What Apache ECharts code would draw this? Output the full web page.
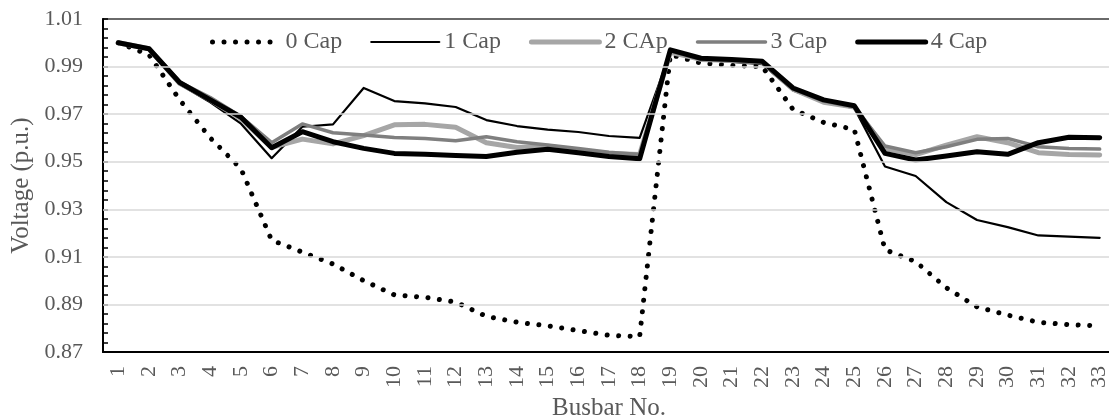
<!DOCTYPE html>
<html>
<head>
<meta charset="utf-8">
<title>Busbar voltage profile</title>
<script src="https://cdn.jsdelivr.net/npm/echarts@6/dist/echarts.min.js"></script>
<style>
  html, body { margin: 0; padding: 0; background: #ffffff; }
  #chart { width: 1109px; height: 419px; }
</style>
</head>
<body>
<div id="chart"></div>
<script>
// Busbar numbers along the feeder
const busbars = ['1','2','3','4','5','6','7','8','9','10','11','12','13','14','15','16','17',
  '18','19','20','21','22','23','24','25','26','27','28','29','30','31','32','33'];

// Voltage magnitude (p.u.) per busbar for each capacitor case
const cap0 = [1.000, 0.995, 0.976, 0.960, 0.947, 0.917, 0.912, 0.907, 0.900, 0.894, 0.893,
  0.891, 0.885, 0.8825, 0.881, 0.879, 0.877, 0.8765, 0.995, 0.9915, 0.9905, 0.990, 0.972,
  0.9665, 0.9635, 0.913, 0.908, 0.897, 0.889, 0.8855, 0.8825, 0.8815, 0.881];
const cap1 = [1.000, 0.997, 0.9825, 0.975, 0.966, 0.9515, 0.9647, 0.9657, 0.981, 0.9755, 0.9745,
  0.973, 0.9675, 0.965, 0.9635, 0.9625, 0.9608, 0.960, 0.996, 0.993, 0.992, 0.991, 0.980,
  0.975, 0.9725, 0.948, 0.944, 0.933, 0.9255, 0.9225, 0.919, 0.9185, 0.918];
const cap2 = [1.000, 0.9975, 0.983, 0.976, 0.968, 0.956, 0.9595, 0.9575, 0.961, 0.9655, 0.9657,
  0.9645, 0.958, 0.956, 0.9565, 0.9548, 0.9535, 0.953, 0.996, 0.993, 0.9925, 0.992, 0.9805,
  0.975, 0.973, 0.9555, 0.953, 0.957, 0.9605, 0.958, 0.9538, 0.953, 0.9528];
const cap3 = [1.000, 0.9975, 0.9835, 0.977, 0.969, 0.958, 0.9659, 0.9622, 0.9612, 0.9602, 0.9598,
  0.9588, 0.9605, 0.9584, 0.957, 0.9556, 0.954, 0.953, 0.9965, 0.993, 0.9925, 0.9915, 0.9805,
  0.9755, 0.973, 0.9566, 0.9538, 0.9563, 0.9594, 0.9598, 0.9563, 0.9556, 0.9553];
const cap4 = [1.000, 0.9975, 0.9833, 0.976, 0.9687, 0.9559, 0.9626, 0.9584, 0.9556, 0.9535, 0.9531,
  0.9526, 0.9522, 0.954, 0.9552, 0.9538, 0.9522, 0.9512, 0.997, 0.9935, 0.993, 0.9922, 0.981,
  0.976, 0.9735, 0.9535, 0.9507, 0.9524, 0.9542, 0.9531, 0.958, 0.9603, 0.9601];

const seriesNames = ['0 Cap', '1 Cap', '2 CAp', '3 Cap', '4 Cap'];

// Labelled voltage levels and the small tick spacing on the voltage axis
const yLabelValues = [0.87, 0.89, 0.91, 0.93, 0.95, 0.97, 0.99, 1.01];
const yMin = 0.87, yMax = 1.01, yTickStep = 0.004;

const yTickValues = [];
for (let k = 0; yMin + k * yTickStep <= yMax + 1e-9; k++) {
  yTickValues.push(+(yMin + k * yTickStep).toFixed(3));
}
// horizontal grid lines at the inner labelled levels
const gridLevels = yLabelValues.slice(1, -1);

const FONT = 'Liberation Serif';
const TXT = '#595959';

function lineSeries(name, data, color, width, dash) {
  return {
    name: name,
    type: 'line',
    data: data,
    symbol: 'none',
    smooth: false,
    z: 3,
    lineStyle: {
      color: color,
      width: width,
      type: dash || 'solid',
      cap: 'round',
      join: 'round'
    },
    itemStyle: { color: color }
  };
}

const chart = echarts.init(document.getElementById('chart'), null, { renderer: 'canvas' });
chart.setOption({
  animation: false,
  backgroundColor: '#ffffff',
  grid: {
    left: 103, top: 19, width: 1012, bottom: 67,
    outerBoundsMode: 'none',
    containLabel: false,
    show: true, borderColor: '#3a3a3a', borderWidth: 1.5, backgroundColor: 'transparent'
  },
  legend: {
    data: seriesNames,
    left: 205, top: 25,
    itemWidth: 68, itemHeight: 14, itemGap: 28,
    itemStyle: { color: 'rgba(0,0,0,0)', borderWidth: 0 },
    lineStyle: { width: 'inherit' },
    textStyle: { fontFamily: FONT, fontSize: 24, color: TXT }
  },
  xAxis: {
    type: 'category',
    data: busbars,
    boundaryGap: true,
    name: 'Busbar No.',
    nameLocation: 'middle',
    nameGap: 43,
    nameTextStyle: { fontFamily: FONT, fontSize: 25, color: TXT },
    axisLine: { lineStyle: { color: '#000000', width: 2 } },
    axisTick: { inside: true, length: 7, interval: 0, lineStyle: { color: '#000000', width: 1.5 } },
    axisLabel: {
      interval: 0, rotate: 90, margin: 14,
      fontFamily: FONT, fontSize: 22, color: TXT
    },
    splitLine: { show: false }
  },
  yAxis: {
    type: 'value',
    min: yMin, max: yMax, interval: 0.01,
    name: 'Voltage (p.u.)',
    nameLocation: 'middle',
    nameGap: 69,
    nameTextStyle: { fontFamily: FONT, fontSize: 25, color: TXT },
    axisLine: { show: true, lineStyle: { color: '#000000', width: 2 } },
    axisTick: {
      show: true, inside: true, length: 5,
      customValues: yTickValues,
      lineStyle: { color: '#000000', width: 1.5 }
    },
    axisLabel: {
      margin: 20,
      customValues: yLabelValues,
      fontFamily: FONT, fontSize: 22, color: TXT,
      formatter: function (v) {
        return Math.round(v * 100) % 2 === 1 ? v.toFixed(2) : '';
      }
    },
    splitLine: { show: false }
  },
  series: [
    {
      // carries the horizontal grid lines beneath the curves
      name: 'grid',
      type: 'line',
      data: [],
      silent: true,
      z: 1,
      markLine: {
        silent: true,
        symbol: ['none', 'none'],
        label: { show: false },
        lineStyle: { color: '#d9d9d9', width: 1.5, type: 'solid' },
        data: gridLevels.map(function (v) { return { yAxis: v }; })
      }
    },
    lineSeries('0 Cap', cap0, '#000000', 5, [0.01, 11.5]),
    lineSeries('1 Cap', cap1, '#000000', 2.2),
    lineSeries('2 CAp', cap2, '#a6a6a6', 5),
    lineSeries('3 Cap', cap3, '#7f7f7f', 3.5),
    lineSeries('4 Cap', cap4, '#000000', 5)
  ]
});
</script>
</body>
</html>
